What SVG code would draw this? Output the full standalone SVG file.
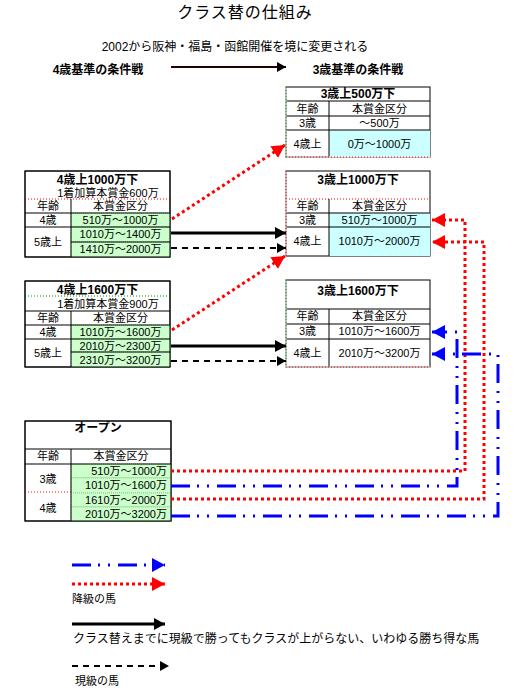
<svg xmlns="http://www.w3.org/2000/svg" width="520" height="700" viewBox="0 0 520 700">
<style>
text{font-family:"Liberation Sans","Noto Sans CJK JP","Noto Sans CJK SC",sans-serif;fill:#000}
.t{font-size:11px}
.c{text-anchor:middle}
.e{text-anchor:end}
.b{font-weight:bold;font-size:12px}
.box{fill:#fff;stroke:#000;stroke-width:1}
.ln{stroke:#000;stroke-width:1;fill:none}
.rdot{stroke:#f00;stroke-width:1;stroke-dasharray:1 2;fill:none}
.gdot{stroke:#090;stroke-width:1;stroke-dasharray:1 2;fill:none}
.gc{fill:#ccffcc;stroke:#8c8;stroke-width:1;stroke-dasharray:1 1}
.cc{fill:#ccffff}
.red{stroke:#f00;stroke-width:3;stroke-dasharray:3 3;fill:none}
.blue{stroke:#00f;stroke-width:3;stroke-dasharray:19 7 2 8 2 8;fill:none}
.blk{stroke:#000;stroke-width:3;fill:none}
.dsh{stroke:#000;stroke-width:2;stroke-dasharray:6 5;fill:none}
</style>
<defs>
<marker id="hr" markerUnits="userSpaceOnUse" markerWidth="14" markerHeight="14" refX="13" refY="7" orient="auto"><path d="M0,0 L13,7 L0,14 z" fill="#f00"/></marker>
<marker id="hb" markerUnits="userSpaceOnUse" markerWidth="14" markerHeight="14" refX="13" refY="7" orient="auto"><path d="M0,0 L13,7 L0,14 z" fill="#00f"/></marker>
<marker id="hk" markerUnits="userSpaceOnUse" markerWidth="12" markerHeight="12" refX="11" refY="6" orient="auto"><path d="M0,0 L11,6 L0,12 z" fill="#000"/></marker>
<marker id="hs" markerUnits="userSpaceOnUse" markerWidth="10" markerHeight="10" refX="9" refY="5" orient="auto"><path d="M0,0 L9,5 L0,10 z" fill="#000"/></marker>
</defs>
<rect width="520" height="700" fill="#fff"/>

<g id="header">
<text x="245" y="18" class="c" style="font-size:16px;letter-spacing:1px">クラス替の仕組み</text>
<text x="235" y="51" class="c" style="font-size:12px">2002から阪神・福島・函館開催を境に変更される</text>
<text x="98" y="74" class="c b">4歳基準の条件戦</text>
<text x="358" y="74" class="c b">3歳基準の条件戦</text>
<line x1="171" y1="67" x2="286" y2="67" stroke="#200" stroke-width="2" marker-end="url(#hs)"/>
</g>

<g id="t3-500">
<rect x="286" y="87" width="144" height="70" class="box"/>
<rect x="329" y="130" width="101" height="27" class="cc"/>
<text x="358" y="98" class="c b">3歳上500万下</text>
<line x1="286" y1="101" x2="430" y2="101" class="ln"/>
<text x="307.5" y="113" class="c t">年齢</text>
<text x="379.5" y="113" class="c t">本賞金区分</text>
<line x1="286" y1="116" x2="430" y2="116" class="ln"/>
<text x="307.5" y="127" class="c t">3歳</text>
<text x="379.5" y="127" class="c t">～500万</text>
<line x1="286" y1="130" x2="430" y2="130" class="ln"/>
<text x="307.5" y="148" class="c t">4歳上</text>
<text x="379.5" y="148" class="c t">0万～1000万</text>
<line x1="329" y1="101" x2="329" y2="157" class="ln"/>
<line x1="286" y1="157" x2="430" y2="157" stroke="#fff" stroke-width="1"/>
<line x1="286" y1="157" x2="430" y2="157" class="rdot"/>
<line x1="286" y1="87" x2="286" y2="157" stroke="#fff" stroke-width="1"/>
<line x1="286" y1="87" x2="286" y2="157" class="gdot"/>
</g>

<g id="t3-1000">
<rect x="286" y="171" width="144" height="85" class="box"/>
<rect x="329" y="213" width="101" height="43" class="cc"/>
<text x="358" y="184" class="c b">3歳上1000万下</text>
<line x1="286" y1="199" x2="430" y2="199" class="rdot"/>
<text x="307.5" y="210" class="c t">年齢</text>
<text x="379.5" y="210" class="c t">本賞金区分</text>
<line x1="286" y1="213" x2="430" y2="213" class="ln"/>
<text x="307.5" y="224" class="c t">3歳</text>
<text x="379.5" y="224" class="c t">510万～1000万</text>
<line x1="286" y1="227" x2="430" y2="227" class="ln"/>
<text x="307.5" y="245" class="c t">4歳上</text>
<text x="379.5" y="245" class="c t">1010万～2000万</text>
<line x1="329" y1="199" x2="329" y2="256" class="ln"/>
<line x1="286" y1="171" x2="286" y2="256" stroke="#fff" stroke-width="1"/>
<line x1="286" y1="171" x2="286" y2="256" class="rdot"/>
</g>

<g id="t3-1600">
<rect x="286" y="280" width="144" height="87" class="box"/>
<text x="358" y="295" class="c b">3歳上1600万下</text>
<line x1="286" y1="309" x2="430" y2="309" class="ln"/>
<text x="307.5" y="320" class="c t">年齢</text>
<text x="379.5" y="320" class="c t">本賞金区分</text>
<line x1="286" y1="324" x2="430" y2="324" class="ln"/>
<text x="307.5" y="335" class="c t">3歳</text>
<text x="379.5" y="335" class="c t">1010万～1600万</text>
<line x1="286" y1="339" x2="430" y2="339" class="ln"/>
<text x="307.5" y="357" class="c t">4歳上</text>
<text x="379.5" y="357" class="c t">2010万～3200万</text>
<line x1="329" y1="309" x2="329" y2="367" class="ln"/>
<line x1="286" y1="367" x2="430" y2="367" stroke="#fff" stroke-width="1"/>
<line x1="286" y1="367" x2="430" y2="367" class="rdot"/>
<line x1="286" y1="280" x2="286" y2="367" stroke="#fff" stroke-width="1"/>
<line x1="286" y1="280" x2="286" y2="367" class="gdot"/>
</g>

<g id="t4-1000">
<rect x="25" y="171" width="145" height="86" class="box"/>
<rect x="71" y="213" width="99" height="14" class="gc"/>
<rect x="71" y="227" width="99" height="15" class="gc"/>
<rect x="71" y="242" width="99" height="15" class="gc"/>
<text x="97.5" y="183.5" class="c b">4歳上1000万下</text>
<text x="108" y="197" class="c t">1着加算本賞金600万</text>
<line x1="25" y1="199" x2="170" y2="199" class="rdot"/>
<text x="48" y="210" class="c t">年齢</text>
<text x="120.5" y="210" class="c t">本賞金区分</text>
<line x1="25" y1="213" x2="170" y2="213" class="ln"/>
<text x="48" y="224" class="c t">4歳</text>
<text x="120.5" y="224" class="c t">510万～1000万</text>
<line x1="25" y1="227" x2="170" y2="227" class="ln"/>
<line x1="71" y1="242" x2="170" y2="242" class="ln"/>
<text x="48" y="246" class="c t">5歳上</text>
<text x="120.5" y="238" class="c t">1010万～1400万</text>
<text x="120.5" y="253" class="c t">1410万～2000万</text>
<line x1="71" y1="199" x2="71" y2="257" class="ln"/>
<rect x="25" y="171" width="145" height="86" fill="none" stroke="#000"/>
</g>

<g id="t4-1600">
<rect x="25" y="281" width="145" height="86" class="box"/>
<rect x="71" y="325" width="99" height="14" class="gc"/>
<rect x="71" y="339" width="99" height="13" class="gc"/>
<rect x="71" y="352" width="99" height="15" class="gc"/>
<text x="97.5" y="294" class="c b">4歳上1600万下</text>
<line x1="25" y1="296" x2="170" y2="296" class="gdot"/>
<text x="108" y="308" class="c t">1着加算本賞金900万</text>
<line x1="25" y1="311" x2="170" y2="311" class="ln"/>
<text x="48" y="322" class="c t">年齢</text>
<text x="120.5" y="322" class="c t">本賞金区分</text>
<line x1="25" y1="325" x2="170" y2="325" class="ln"/>
<text x="48" y="336" class="c t">4歳</text>
<text x="120.5" y="336" class="c t">1010万～1600万</text>
<line x1="25" y1="339" x2="170" y2="339" class="ln"/>
<line x1="71" y1="352" x2="170" y2="352" class="ln"/>
<text x="48" y="357" class="c t">5歳上</text>
<text x="120.5" y="350" class="c t">2010万～2300万</text>
<text x="120.5" y="364" class="c t">2310万～3200万</text>
<line x1="71" y1="311" x2="71" y2="367" class="ln"/>
<rect x="25" y="281" width="145" height="86" fill="none" stroke="#000"/>
</g>

<g id="open">
<rect x="25" y="421" width="146" height="100" class="box"/>
<rect x="71" y="464" width="100" height="14" class="gc"/>
<rect x="71" y="478" width="100" height="15" class="gc"/>
<rect x="71" y="493" width="100" height="14" class="gc"/>
<rect x="71" y="507" width="100" height="14" class="gc"/>
<text x="98" y="432" class="c b">オープン</text>
<line x1="25" y1="449" x2="171" y2="449" class="ln"/>
<text x="48" y="460" class="c t">年齢</text>
<text x="121" y="460" class="c t">本賞金区分</text>
<line x1="25" y1="464" x2="171" y2="464" class="ln"/>
<text x="48" y="483" class="c t">3歳</text>
<text x="48" y="512" class="c t">4歳</text>
<line x1="25" y1="492" x2="71" y2="492" class="rdot"/>
<text x="167" y="475" class="e t">510万～1000万</text>
<text x="167" y="489" class="e t">1010万～1600万</text>
<text x="167" y="504" class="e t">1610万～2000万</text>
<text x="167" y="518" class="e t">2010万～3200万</text>
<line x1="71" y1="449" x2="71" y2="521" class="ln"/>
<rect x="25" y="421" width="146" height="100" fill="none" stroke="#000"/>
</g>

<g id="connectors">
<line x1="172" y1="219" x2="285" y2="145" class="red" marker-end="url(#hr)"/>
<line x1="171" y1="233" x2="286" y2="233" class="blk" marker-end="url(#hk)"/>
<line x1="171" y1="248" x2="286" y2="248" class="dsh" marker-end="url(#hs)"/>
<line x1="172" y1="330" x2="285" y2="256" class="red" marker-end="url(#hr)"/>
<line x1="171" y1="346" x2="286" y2="346" class="blk" marker-end="url(#hk)"/>
<line x1="171" y1="361" x2="286" y2="361" class="dsh" marker-end="url(#hs)"/>
<path d="M171,471 H465 V220 H432" class="red" marker-end="url(#hr)"/>
<path d="M171,499 H484 V242 H432" class="red" marker-end="url(#hr)"/>
<path d="M171,486 H457 V332 H432" class="blue" marker-end="url(#hb)"/>
<path d="M171,516 H498 V354 H432" class="blue" marker-end="url(#hb)"/>
</g>

<g id="legend">
<line x1="72" y1="565" x2="165" y2="565" class="blue" marker-end="url(#hb)"/>
<line x1="72" y1="584" x2="165" y2="584" class="red" marker-end="url(#hr)"/>
<text x="72" y="603" class="t">降級の馬</text>
<line x1="72" y1="624" x2="165" y2="624" class="blk" marker-end="url(#hk)"/>
<text x="73" y="643" style="font-size:12px">クラス替えまでに現級で勝ってもクラスが上がらない、いわゆる勝ち得な馬</text>
<line x1="72" y1="666" x2="169" y2="666" class="dsh" marker-end="url(#hs)"/>
<text x="75" y="685" class="t">現級の馬</text>
</g>
</svg>
